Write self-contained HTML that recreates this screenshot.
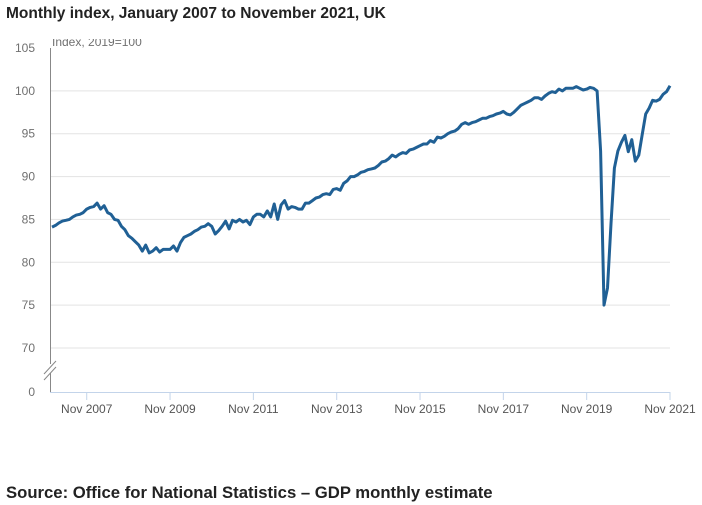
<!DOCTYPE html>
<html><head><meta charset="utf-8"><style>
body{margin:0;background:#fff;width:702px;height:505px;overflow:hidden;font-family:"Liberation Sans",sans-serif}
.t{position:absolute;left:6px;top:5px;font-weight:bold;font-size:15.5px;color:#222}
.s{position:absolute;left:6px;top:483px;font-weight:bold;font-size:16.7px;color:#222}
</style></head><body>
<div class="t">Monthly index, January 2007 to November 2021, UK</div>
<svg id="c" width="702" height="505" style="position:absolute;left:0;top:0"></svg>
<div class="s">Source: Office for National Statistics – GDP monthly estimate</div>
<script>
const yTicks=[105,100,95,90,85,80,75,70];
const xTickLabels=["Nov 2007","Nov 2009","Nov 2011","Nov 2013","Nov 2015","Nov 2017","Nov 2019","Nov 2021"];
const xTickIndex=[10,34,58,82,106,130,154,178];
const gdpValues=[
84.1,84.3,84.6,84.8,84.9,85.0,85.3,85.5,85.6,85.8,86.2,86.4,
86.5,86.9,86.2,86.6,85.8,85.6,85.0,84.9,84.2,83.8,83.1,82.8,
82.4,82.0,81.3,82.0,81.1,81.3,81.7,81.2,81.5,81.5,81.5,81.9,
81.3,82.3,82.9,83.1,83.3,83.6,83.8,84.1,84.2,84.5,84.2,83.3,
83.7,84.2,84.8,83.9,84.9,84.7,85.0,84.7,84.9,84.4,85.3,85.6,
85.6,85.3,86.0,85.3,86.8,85.0,86.7,87.2,86.2,86.5,86.4,86.2,
86.2,86.9,86.9,87.2,87.5,87.6,87.9,88.0,87.9,88.5,88.6,88.4,
89.2,89.5,90.0,90.0,90.2,90.5,90.6,90.8,90.9,91.0,91.3,91.7,
91.8,92.1,92.5,92.3,92.6,92.8,92.7,93.1,93.2,93.4,93.6,93.8,
93.8,94.2,94.0,94.6,94.5,94.7,95.0,95.2,95.3,95.6,96.1,96.3,
96.1,96.3,96.4,96.6,96.8,96.8,97.0,97.1,97.3,97.4,97.6,97.3,
97.2,97.5,97.9,98.3,98.5,98.7,98.9,99.2,99.2,99.0,99.4,99.7,
99.9,99.8,100.2,100.0,100.3,100.3,100.3,100.5,100.3,100.1,100.2,100.4,
100.3,100.0,93.0,75.0,77.0,84.5,91.0,93.0,94.0,94.8,92.9,94.3,
91.8,92.5,94.9,97.3,98.0,98.9,98.8,99.0,99.6,99.9,100.6];
const NS="http://www.w3.org/2000/svg",svg=document.getElementById('c');
const n=gdpValues.length;
const X=i=>52+i*(670-52)/(n-1);
const Y=v=>48+(105-v)*(300/35);
function mk(t,a,p){const e=document.createElementNS(NS,t);for(const k in a)e.setAttribute(k,a[k]);(p||svg).appendChild(e);return e;}
yTicks.forEach(v=>{
 if(v<105){const g=mk('line',{x1:50,x2:670,y1:Y(v),y2:Y(v),stroke:'#e3e3e3','stroke-width':1});
 
 }
 const t=mk('text',{x:35,y:Y(v)+4,'text-anchor':'end','font-size':12,fill:'#707070'});t.textContent=v;
 
 
});
const z=mk('text',{x:35,y:396,'text-anchor':'end','font-size':12,fill:'#707070'});z.textContent='0';


const ax=mk('line',{x1:50.5,x2:50.5,y1:48,y2:392,stroke:'#888','stroke-width':1});


mk('rect',{x:47,y:364,width:7,height:9,fill:'#fff'});
const br=mk('path',{d:'M44 374 L56 361 M44 380 L56 367',stroke:'#888','stroke-width':1,fill:'none'});


const xa=mk('line',{x1:50,x2:670,y1:392.5,y2:392.5,stroke:'#c3d4ea','stroke-width':1});


xTickIndex.forEach((idx,k)=>{
 mk('line',{x1:X(idx),x2:X(idx),y1:392,y2:400,stroke:'#c3d4ea'});
 const t=mk('text',{x:X(idx),y:413,'text-anchor':'middle','font-size':12,fill:'#555'});t.textContent=xTickLabels[k];
 
 
});
const yt=mk('text',{x:52,y:46,'font-size':12,fill:'#707070'});yt.textContent='Index, 2019=100';


mk('rect',{x:0,y:24,width:702,height:15,fill:'#fff'});
let d='';gdpValues.forEach((v,i)=>{d+=(i?'L':'M')+X(i).toFixed(1)+' '+Y(v).toFixed(1);});
const ln=mk('path',{d:d,fill:'none',stroke:'#206095','stroke-width':3,'stroke-linejoin':'round'});


</script>
</body></html>
